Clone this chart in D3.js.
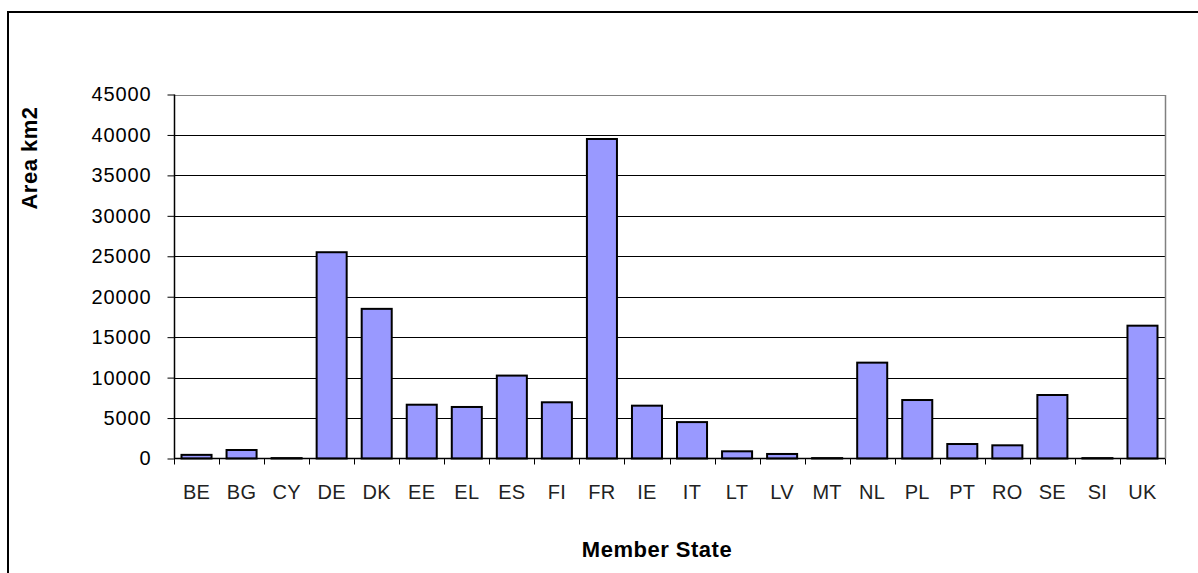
<!DOCTYPE html>
<html>
<head>
<meta charset="utf-8">
<script src="https://cdn.jsdelivr.net/npm/d3@7"></script>
<style>
  html, body { margin: 0; padding: 0; background: #fff; }
  svg { display: block; }
  text { font-family: "Liberation Sans", Arial, sans-serif; }
</style>
</head>
<body>
<svg id="chart" width="1198" height="573"></svg>
<script>
const categories = ["BE","BG","CY","DE","DK","EE","EL","ES","FI","FR","IE","IT","LT","LV","MT","NL","PL","PT","RO","SE","SI","UK"];
const areaValues = [450, 1050, 50, 25500, 18500, 6650, 6370, 10250, 6950, 39500, 6530, 4500, 890, 560, 50, 11850, 7230, 1790, 1630, 7850, 50, 16420];
const yTicks = [0, 5000, 10000, 15000, 20000, 25000, 30000, 35000, 40000, 45000];
const yTitle = "Area km2";
const xTitle = "Member State";

const svg = d3.select("#chart");
const W = 1198, H = 573;
const plot = { left: 174, right: 1165, top: 94.5, bottom: 458.5 };

// outer border
svg.append("rect")
  .attr("x", 8).attr("y", 12)
  .attr("width", W + 20).attr("height", H + 20)
  .attr("fill", "none").attr("stroke", "#000").attr("stroke-width", 2);

const x = d3.scaleBand().domain(categories)
  .range([plot.left, plot.right])
  .paddingInner(1/3).paddingOuter(1/6);
const y = d3.scaleLinear().domain([0, 45000]).range([plot.bottom, plot.top]);

// gridlines
svg.append("g").selectAll("line")
  .data(yTicks.filter(d => d > 0))
  .join("line")
  .attr("x1", plot.left).attr("x2", plot.right)
  .attr("y1", d => Math.round(y(d)) + 0.5).attr("y2", d => Math.round(y(d)) + 0.5)
  .attr("stroke", d => d === 45000 ? "#808080" : "#000")
  .attr("stroke-width", 1);

// right border of plot area
svg.append("line")
  .attr("x1", plot.right + 0.5).attr("x2", plot.right + 0.5)
  .attr("y1", Math.round(plot.top)).attr("y2", plot.bottom)
  .attr("stroke", "#808080").attr("stroke-width", 1.5);

// bars
svg.append("g").selectAll("rect")
  .data(categories.map((c, i) => ({ c, v: areaValues[i] })))
  .join("rect")
  .attr("x", d => x(d.c))
  .attr("width", x.bandwidth())
  .attr("y", d => y(d.v))
  .attr("height", d => plot.bottom - y(d.v))
  .attr("fill", "#9999FF")
  .attr("stroke", "#000")
  .attr("stroke-width", 2);

// y axis
const yAxis = svg.append("g")
  .attr("transform", `translate(${plot.left + 0.5},0)`)
  .call(d3.axisLeft(y).tickValues(yTicks).tickSize(7).tickPadding(16).tickFormat(d3.format("d")));
yAxis.select(".domain").attr("stroke", "#000").attr("stroke-width", 1.5).attr("d", `M0,${plot.top}V${plot.bottom}`);
yAxis.selectAll(".tick line").attr("stroke", "#000").attr("stroke-width", 1);
yAxis.selectAll(".tick text").attr("font-size", 20).attr("fill", "#000")
  .attr("font-family", "'Liberation Sans', Arial, sans-serif").attr("letter-spacing", 0.9);

// x axis baseline and ticks
const step = x.step();
const boundaries = categories.map(c => x(c) - (step - x.bandwidth()) / 2).concat([plot.right]);
svg.append("line")
  .attr("x1", plot.left).attr("x2", plot.right)
  .attr("y1", plot.bottom).attr("y2", plot.bottom)
  .attr("stroke", "#000").attr("stroke-width", 1.5);
svg.append("g").selectAll("line")
  .data(boundaries)
  .join("line")
  .attr("x1", d => Math.round(d) + 0.5).attr("x2", d => Math.round(d) + 0.5)
  .attr("y1", plot.bottom).attr("y2", plot.bottom + 6)
  .attr("stroke", "#000").attr("stroke-width", 1);

// x labels
svg.append("g").selectAll("text")
  .data(categories)
  .join("text")
  .attr("x", d => x(d) + x.bandwidth() / 2)
  .attr("y", 499)
  .attr("text-anchor", "middle")
  .attr("font-size", 20)
  .attr("fill", "#222")
  .attr("letter-spacing", 0.3)
  .text(d => d);

// axis titles
svg.append("text")
  .attr("x", 657).attr("y", 557)
  .attr("text-anchor", "middle")
  .attr("font-size", 22).attr("font-weight", "bold")
  .attr("letter-spacing", 0.5)
  .attr("fill", "#000")
  .text(xTitle);

svg.append("text")
  .attr("transform", "translate(37,158) rotate(-90)")
  .attr("text-anchor", "middle")
  .attr("font-size", 22).attr("font-weight", "bold")
  .attr("letter-spacing", 0.5)
  .attr("fill", "#000")
  .text(yTitle);
</script>
</body>
</html>
